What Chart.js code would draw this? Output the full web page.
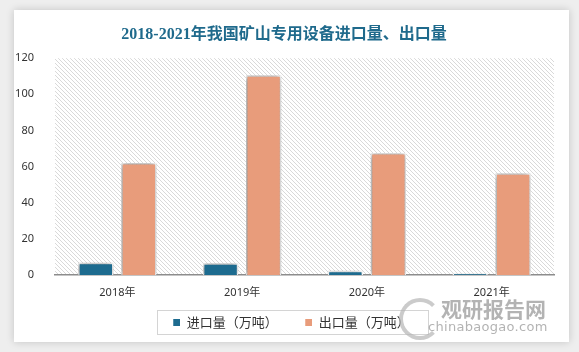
<!DOCTYPE html>
<html>
<head>
<meta charset="utf-8">
<script src="https://cdn.jsdelivr.net/npm/chart.js@4.4.1/dist/chart.umd.min.js"></script>
<style>
  html, body { margin: 0; padding: 0; background: #eeeeee; }
  body { width: 579px; height: 352px; position: relative; overflow: hidden; }
  .card {
    position: absolute; left: 14px; top: 10px; width: 555px; height: 332px;
    background: #fff; box-shadow: 0 0 8px rgba(0,0,0,0.18);
  }
  #chart { position: absolute; left: 0; top: 0; }
  .wm { position: absolute; color: #9a9a9a; opacity: 0.75; font-family: "Noto Sans CJK SC", sans-serif; }
  .wm-logo {
    position: absolute; left: 399px; top: 298px; width: 34px; height: 34px;
    border: 4px solid #b5b5b5; border-radius: 50%; border-right-color: transparent; opacity: 0.7;
  }
</style>
</head>
<body>
<div class="card"><canvas id="chart" width="555" height="332"></canvas></div>
<div class="wm-logo"></div>
<div class="wm" style="left:441px; top:293px; font-size:21px; font-weight:bold;">观研报告网</div>
<div class="wm" style="left:428px; top:319px; font-size:13px; font-family:'DejaVu Sans', sans-serif; letter-spacing:0.3px;">chinabaogao.com</div>
<script>
const years = ['2018年', '2019年', '2020年', '2021年'];
const importVals = [6.8, 6.5, 2.4, 0.8];
const exportVals = [62, 110.5, 67.5, 56.3];
const seriesNames = ['进口量（万吨）', '出口量（万吨）'];
const IMPORT_COLOR = '#1d6b8f';
const EXPORT_COLOR = '#e89c7b';
const KEY_W = 22; // legend key slot, square sits at its right end

// fine diagonal hatch for the plot area
function hatch(ctx) {
    const c = document.createElement('canvas');
    c.width = 4; c.height = 4;
    const g = c.getContext('2d');
    g.fillStyle = '#d9d9d9';
    for (let i = 0; i < 4; i++) g.fillRect(i, i, 1, 1);
    return ctx.createPattern(c, 'repeat');
}

function legendKey(color) {
    const c = document.createElement('canvas');
    c.width = KEY_W; c.height = 7;
    const g = c.getContext('2d');
    g.fillStyle = color;
    g.fillRect(KEY_W - 7, 0, 7, 7);
    return c;
}

const bgPlugin = {
    id: 'plotBg',
    beforeDraw(chart) {
        const { ctx, chartArea: a } = chart;
        ctx.save();
        ctx.fillStyle = hatch(ctx);
        ctx.fillRect(a.left, a.top, a.right - a.left, a.bottom - a.top);
        ctx.restore();
    },
    beforeDatasetsDraw(chart) {
        const ctx = chart.ctx;
        ctx.save();
        ctx.shadowColor = 'rgba(0,0,0,0.5)';
        ctx.shadowBlur = 6;
        ctx.shadowOffsetX = -1;
        ctx.shadowOffsetY = 0;
    },
    afterDatasetsDraw(chart) {
        chart.ctx.restore();
    },
    afterDraw(chart) {
        const ctx = chart.ctx;
        const items = chart.legend.legendHitBoxes;
        if (!items || !items.length) return;
        const last = items[items.length - 1];
        const x0 = Math.round(items[0].left + KEY_W - 7 - 16);
        const x1 = Math.round(last.left + last.width + 18);
        const y0 = Math.round(items[0].top - 6);
        ctx.save();
        ctx.strokeStyle = '#d4d4d4';
        ctx.lineWidth = 1;
        ctx.strokeRect(x0 + 0.5, y0 + 0.5, x1 - x0, 24);
        ctx.restore();
    }
};

new Chart(document.getElementById('chart'), {
    type: 'bar',
    data: {
        labels: years,
        datasets: [
            { label: seriesNames[0], data: importVals, backgroundColor: IMPORT_COLOR, borderColor: '#ffffff', borderWidth: 1.5, pointStyle: legendKey(IMPORT_COLOR) },
            { label: seriesNames[1], data: exportVals, backgroundColor: EXPORT_COLOR, borderColor: '#ffffff', borderWidth: 1.5, pointStyle: legendKey(EXPORT_COLOR) }
        ]
    },
    options: {
        responsive: false, animation: false,
        layout: { padding: { left: 0, right: 15, top: 0, bottom: 3.5 } },
        datasets: { bar: { categoryPercentage: 0.69, barPercentage: 0.82 } },
        plugins: {
            title: {
                display: true,
                text: '2018-2021年我国矿山专用设备进口量、出口量',
                color: '#1f6a8c',
                font: { family: '"Liberation Serif", "Noto Sans CJK SC"', size: 16, weight: 'bold' },
                padding: { top: 15, bottom: 14 }
            },
            legend: {
                position: 'bottom',
                labels: {
                    color: '#333333', font: { family: '"Noto Sans CJK SC"', size: 13 },
                    usePointStyle: true, pointStyleWidth: KEY_W, boxHeight: 7, padding: 12.5
                }
            },
            tooltip: { enabled: false }
        },
        scales: {
            x: {
                grid: { display: false },
                border: { display: true, color: '#8c8c8c', width: 1.5 },
                ticks: { color: '#333333', font: { family: '"Noto Sans", "Noto Sans CJK SC"', size: 11 }, padding: 3 },
                afterFit(s) { s.height = 28; }
            },
            y: {
                min: 0, max: 120,
                grid: { display: false },
                border: { display: false },
                ticks: { stepSize: 20, color: '#333333', font: { family: '"Noto Sans"', size: 11 }, padding: 13 },
                afterFit(s) { s.width = 41; }
            }
        }
    },
    plugins: [bgPlugin]
});
</script>
</body>
</html>
